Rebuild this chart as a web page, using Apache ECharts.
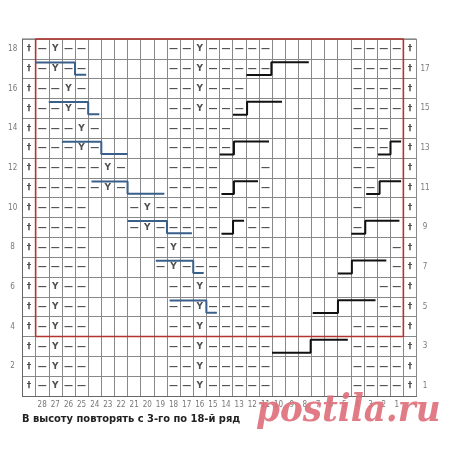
<!DOCTYPE html><html><head><meta charset="utf-8">
<script src="https://cdn.jsdelivr.net/npm/echarts@6/dist/echarts.min.js"></script>
<style>html,body{margin:0;padding:0;background:#fff}#c{width:460px;height:458px}</style></head>
<body><div id="c"></div><script>
// columns 28..1, rows 1..18 ('-' purl dash, 'Y' yarn, '.' empty)
const colNumbers=[28,27,26,25,24,23,22,21,20,19,18,17,16,15,14,13,12,11,10,9,8,7,6,5,4,3,2,1];
const rowA="-Y--......--Y-----......----";
const rowB="--Y-......--Y---........----";
const rowC="---Y-.....-----.........---.";
const rowD="-----Y-...----...-......--..";
const rowE="----...-Y-----..--......-...";
const rowF="----.....-Y---.---.........-";
const rowG="-Y--......--Y-----........--";
const rows={1:rowA,2:rowA,3:rowA,4:rowA,5:rowG,6:rowG,7:rowF,8:rowF,9:rowE,10:rowE,11:rowD,12:rowD,13:rowC,14:rowC,15:rowB,16:rowB,17:rowA,18:rowA};
// step lines: [row, start, step, end] in grid column units
const blueSteps=[[17,1,4,4.85],[15,2,5,5.85],[13,3,6,8],[11,5.25,8,10.8],[9,8,11,12.9],[7,10.15,13,13.8],[5,11.2,14,14.8]];
const blackSteps=[[17,17.05,18.95,21.8],[15,16.03,17.1,19.76],[13,15.02,16.1,18.77],[11,15.15,16.1,17.93],[13,27.06,28.02,28.83],[11,26.17,27.19,28.83],[9,15.15,16.03,16.87],[9,25.03,26.1,28.7],[7,24.02,25.08,27.7],[5,22.1,24.02,26.88],[3,19,21.94,24.77]];
const caption="В высоту повторять с 3-го по 18-й ряд";

const cells=[];
for(let r=1;r<=18;r++){
  cells.push({value:[0.5,r-0.5],t:'†'});cells.push({value:[29.5,r-0.5],t:'†'});
  const s=rows[r];
  for(let i=0;i<28;i++){const ch=s[i];if(ch==='.')continue;
    cells.push({value:[i+1.5,r-0.5],t:ch==='-'?'—':'Y'});}
}
const colLabels=colNumbers.map((n,i)=>({value:[i+1.5,-0.45],t:String(n)}));
const rowLabels=[];
for(let r=1;r<=18;r++)rowLabels.push({value:[r%2===0?-0.75:30.65,r-0.5],t:String(r)});
const series=[];
series.push({type:'scatter',data:cells,symbolSize:0,silent:true,label:{show:true,position:'inside',formatter:p=>p.data.t,fontFamily:'DejaVu Sans',fontSize:9,fontWeight:'bold',color:'#222'}});
series.push({type:'scatter',data:colLabels,symbolSize:0,clip:false,label:{show:true,position:'inside',formatter:p=>p.data.t,fontFamily:'DejaVu Sans Condensed',fontSize:8,color:'#555'}});
series.push({type:'scatter',data:rowLabels,symbolSize:0,clip:false,label:{show:true,position:'inside',formatter:p=>p.data.t,fontFamily:'DejaVu Sans Condensed',fontSize:8,color:'#555'}});
series.push({type:'line',data:[[1,3],[29,3],[29,18],[1,18],[1,3]],symbol:'none',clip:false,lineStyle:{color:'#b5332e',width:1.6},z:5});
blueSteps.forEach(([r,a,b,c])=>series.push({type:'line',symbol:'none',clip:false,z:6,data:[[a,r-0.18],[b,r-0.18],[b,r-0.8],[c,r-0.8]],lineStyle:{color:'#3a5f8a',width:2}}));
blackSteps.forEach(([r,a,b,c])=>series.push({type:'line',symbol:'none',clip:false,z:6,data:[[a,r-0.82],[b,r-0.82],[b,r-0.17],[c,r-0.17]],lineStyle:{color:'#111',width:2}}));
const chart=echarts.init(document.getElementById('c'),null,{renderer:'canvas'});
chart.setOption({
  animation:false,backgroundColor:'#fff',
  grid:{left:22.5,right:43.5,top:39,bottom:62},
  xAxis:{type:'value',min:0,max:30,interval:1,axisLabel:{show:false},axisTick:{show:false},axisLine:{show:true,lineStyle:{color:'#666'}},splitLine:{show:true,lineStyle:{color:'#888',width:1}}},
  yAxis:{type:'value',min:0,max:18,interval:1,axisLabel:{show:false},axisTick:{show:false},axisLine:{show:true,lineStyle:{color:'#666'}},splitLine:{show:true,lineStyle:{color:'#888',width:1}}},
  graphic:[
    {type:'line',shape:{x1:416.5,y1:39,x2:416.5,y2:396},style:{stroke:'#666',lineWidth:1}},
    {type:'line',shape:{x1:22.5,y1:39,x2:416.5,y2:39},style:{stroke:'#666',lineWidth:1}},
    {type:'text',left:22,top:414,style:{text:caption,font:'bold 11px "DejaVu Sans Condensed"',fill:'#222'}},
    {type:'text',left:256,top:392,z:100,style:{text:'postila.ru',font:'italic bold 38px "DejaVu Serif Condensed"',fill:'rgba(222,110,122,0.9)'}}
  ],
  series
});
</script></body></html>
